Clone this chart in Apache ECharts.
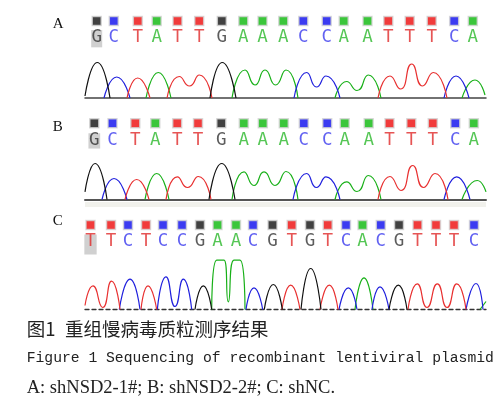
<!DOCTYPE html>
<html><head><meta charset="utf-8">
<script src="https://cdn.jsdelivr.net/npm/echarts@6/dist/echarts.min.js"></script>
<style>html,body{margin:0;padding:0;background:#fff;}#c{width:500px;height:416px;}</style>
</head><body><div id="c"></div>
<script>
// ---- Data (x = scan position, h = signal height) ----
const panelNames = ['A', 'B', 'C'];
const seqA = 'GCTATTGAAACCAATTTCA';
const seqB = 'GCTATTGAAACCAATTTCA';
const seqC = 'TTCTCCGAACGTGTCACGTTTC';
const callPosA = [11.7, 28.8, 52.8, 71.7, 92.5, 114.2, 136.8, 158.3, 177.5, 198.3, 218.3, 241.7, 258.7, 282.5, 303.3, 324.7, 346.7, 369.2, 387.8];
const callPosB = [9.3, 27.5, 50.3, 70.3, 92.2, 113, 136.3, 158.8, 177.8, 198.8, 218.8, 242.2, 259.7, 283.7, 304.5, 326.3, 347.8, 370.3, 388.8];
const callPosC = [5.5, 26, 43, 61, 78, 97, 115, 132.5, 151, 168, 187.5, 206.7, 225, 242.7, 261, 277.5, 295.8, 314, 332.5, 351, 369, 389];

// trace segments per channel: [x, h]
const traceA_G = [[[0,2],[12.3,35.5],[25,0]], [[125,0],[137.3,35.5],[151,0]]];
const traceA_C = [[[19,0],[31.7,21],[45,0]], [[209,0],[221.7,25.5],[231.5,11],[241,22],[255,0]], [[359,0],[371,22],[384,0]]];
const traceA_T = [[[42,0],[52.7,20],[65,0]], [[82,0],[94.3,21.5],[104.5,12],[114.3,23],[127,0]], [[293,0],[305,22],[315.5,9],[326.7,34],[337.5,12],[348.3,25.5],[362,0]]];
const traceA_A = [[[61,0],[73.3,25.5],[86,0]], [[147,0],[160,28],[170,13],[180,28],[190.5,13],[201,28],[213,0]], [[250,0],[261.7,16.5],[272,7.5],[283.3,23],[296,0]], [[377,0],[390,18],[400,3]]];

const traceB_G = [[[0,7.6],[10,36],[22,0]], [[124,0],[136.7,36],[150,0]]];
const traceB_C = [[[17,0],[29,21],[42,0]], [[208,0],[221.7,26],[231.5,12],[241,22.6],[255,0]], [[359,0],[371.7,22.6],[385,0]]];
const traceB_T = [[[40,0],[51.7,20],[64,0]], [[81,0],[92.3,22.6],[102.5,12],[113.3,23],[126,0]], [[293,0],[305,23],[316,9],[327.7,34],[338.5,12],[350,26],[363,0]]];
const traceB_A = [[[60,0],[71.7,26],[84,0]], [[147,0],[159,27.6],[169,14],[179,27.6],[190,14],[201,28],[213,0]], [[250,0],[261.7,17.6],[272,8],[283.3,24],[296,0]], [[377,0],[392.3,19],[401,7.6]]];

const traceC_T = [[[0,4],[8,23.6],[17.7,2],[26.5,28.3],[35,0]], [[56,0],[63,23.6],[71.7,0]], [[197,0],[205.7,24.3],[215,0]], [[235,0],[244.3,24.3],[253,0]], [[323,0],[332.3,25.6],[342,2],[352.3,25.6],[362,2],[371.7,25.6],[381,0]]];
const traceC_C = [[[34.3,0],[45,30.3],[55,0]], [[72.3,0],[81,32.6],[90,3],[98.3,30.3],[106.7,0]], [[161,0],[169,21.6],[177.7,0]], [[254,0],[263.3,21.6],[272,0]], [[287,0],[295,22.6],[304,0]], [[381,0],[391,26],[398,0]]];
const traceC_G = [[[110,0],[118.3,23.6],[126.7,0]], [[179.3,0],[188.3,25],[197.3,0]], [[216,0],[225.7,41],[236,0]], [[304,0],[313.3,24.3],[322,0]]];
const traceC_A = [[[126.7,0],[131.7,49.3],[139,49.3],[143.3,7.6],[149,49.3],[155,49.3],[160,0]], [[270,0],[279,31.6],[288,0]], [[395,0],[401,8]]];

const captionCN1 = '图1';
const captionCN2 = '重组慢病毒质粒测序结果';
const captionEN = 'Figure 1 Sequencing of recombinant lentiviral plasmid';
const captionNote = 'A: shNSD2-1#; B: shNSD2-2#; C: shNC.';

// ---- Styles / layout ----
const sqColor = {G:'#111111', C:'#0a0aee', T:'#ee0a0a', A:'#0ab80a'};
const txtColor = {G:'#333333', C:'#3a3aee', T:'#e02a2a', A:'#2ab82a'};
const lnColor = {G:'#111111', C:'#2020dd', T:'#e83030', A:'#18b018'};

const panels = [
  {seq: seqA, pos: callPosA, tr: {A:traceA_A, C:traceA_C, T:traceA_T, G:traceA_G}, top: 14, h: 84, sqY: 77, lY: 61, hl: {y: 59.3, w: 11, hh: 17.3}, base: {color:'#444', width:1.5, type:'solid'}},
  {seq: seqB, pos: callPosB, tr: {A:traceB_A, C:traceB_C, T:traceB_T, G:traceB_G}, top: 115, h: 84.5, sqY: 76.2, lY: 59.5, hl: {y: 58.6, w: 11.7, hh: 15.3}, base: {color:'#555', width:2, type:'solid'}},
  {seq: seqC, pos: callPosC, tr: {A:traceC_A, C:traceC_C, T:traceC_T, G:traceC_G}, top: 214, h: 95.5, sqY: 84.5, lY: 68.5, hl: {y: 65, w: 12.3, hh: 20}, base: {color:'#333', width:1.3, type:[4,3]}}
];

const grid = [], xAxis = [], yAxis = [], series = [];
panels.forEach((p, i) => {
  grid.push({left: 85, top: p.top, width: 401, height: p.h});
  xAxis.push({type:'value', gridIndex:i, min:0, max:401, axisLine:{show:true, onZero:false, lineStyle:{color:p.base.color, width:p.base.width, type:p.base.type}}, axisTick:{show:false}, axisLabel:{show:false}, splitLine:{show:false}});
  yAxis.push({type:'value', gridIndex:i, min:0, max:p.h, show:false});
  series.push({type:'scatter', xAxisIndex:i, yAxisIndex:i, silent:true, symbol:'rect', symbolSize:[p.hl.w, p.hl.hh],
    itemStyle:{color:'#c4c4c4'}, data:[[p.pos[0], p.hl.y]], z:1});
  series.push({type:'scatter', xAxisIndex:i, yAxisIndex:i, silent:true, symbol:'rect', symbolSize:9,
    data: p.pos.map((x, k) => ({value:[x, p.sqY], itemStyle:{color:sqColor[p.seq[k]], borderColor:'#d4d4d4', borderWidth:1.5}})), z:2});
  series.push({type:'scatter', xAxisIndex:i, yAxisIndex:i, silent:true, symbolSize:1, itemStyle:{color:'rgba(0,0,0,0)'},
    label:{show:true, position:'inside', fontFamily:'DejaVu Sans Mono', fontSize:17.5, formatter:(d)=>d.data.base},
    data: p.pos.map((x, k) => ({value:[x, p.lY], base:p.seq[k], label:{color:txtColor[p.seq[k]]}})), z:3});
  ['A','C','T','G'].forEach(b => {
    p.tr[b].forEach(seg => {
      series.push({type:'line', xAxisIndex:i, yAxisIndex:i, silent:true, smooth:0.6, showSymbol:false, symbol:'none',
        lineStyle:{color:lnColor[b], width:1.2}, data:seg, z:4});
    });
  });
});

const graphic = [
  {type:'text', left:52.7, top:17, style:{text:panelNames[0], font:'15px "Liberation Serif"', fill:'#111'}},
  {type:'text', left:52.7, top:120, style:{text:panelNames[1], font:'15px "Liberation Serif"', fill:'#111'}},
  {type:'text', left:52.7, top:213.5, style:{text:panelNames[2], font:'15px "Liberation Serif"', fill:'#111'}},
  {type:'rect', left:85, top:202, shape:{width:401, height:5}, style:{fill:'#f1f1ec'}, z:-1},
  {type:'text', left:26.7, top:320, style:{text:captionCN1, font:'18.5px "Noto Sans CJK SC"', fill:'#222'}},
  {type:'text', left:65, top:320, style:{text:captionCN2, font:'18.5px "Noto Sans CJK SC"', fill:'#222'}},
  {type:'text', left:26.7, top:351, style:{text:captionEN, font:'14.7px "Liberation Mono"', fill:'#222'}},
  {type:'text', left:26.7, top:378.5, style:{text:captionNote, font:'18.5px "Liberation Serif"', fill:'#222'}}
];

const chart = echarts.init(document.getElementById('c'), null, {renderer:'canvas'});
chart.setOption({animation:false, grid, xAxis, yAxis, series, graphic});
</script></body></html>
